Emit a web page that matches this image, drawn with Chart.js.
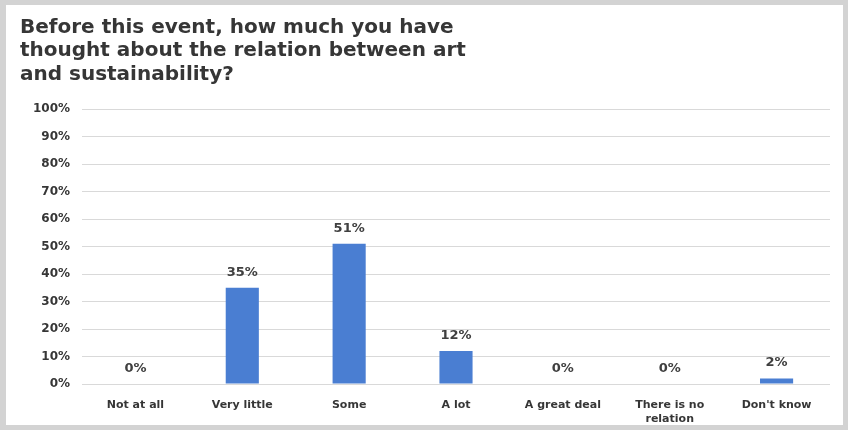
<!DOCTYPE html>
<html>
<head>
<meta charset="utf-8">
<script src="https://cdn.jsdelivr.net/npm/chart.js@4.4.1/dist/chart.umd.min.js"></script>
<style>
  body { margin: 0; background: #fff; }
  #frame {
    width: 848px; height: 430px; box-sizing: border-box;
    border: 5px solid #d3d3d3; border-left-width: 6px; background: #fff;
  }
  #wrap { position: relative; width: 837px; height: 420px; }
</style>
</head>
<body>
<div id="frame"><div id="wrap"><canvas id="chart"></canvas></div></div>
<script>
// survey answers
var categories = ['Not at all', 'Very little', 'Some', 'A lot', 'A great deal', ['There is no', 'relation'], "Don't know"];
var shares = [0, 35, 51, 12, 0, 0, 2];
var titleLines = ['Before this event, how much you have', 'thought about the relation between art', 'and sustainability?'];

var textFont = 'DejaVu Sans';

// percentage text above each bar
var barLabels = {
    id: 'barLabels',
    afterDatasetsDraw: function(chart) {
        var ctx = chart.ctx;
        var meta = chart.getDatasetMeta(0);
        ctx.save();
        ctx.font = 'bold 13px "' + textFont + '"';
        ctx.fillStyle = '#404040';
        ctx.textAlign = 'center';
        ctx.textBaseline = 'bottom';
        meta.data.forEach(function(bar, i) {
            ctx.fillText(shares[i] + '%', bar.x, bar.y - 9);
        });
        ctx.restore();
    }
};

var ctx = document.getElementById('chart').getContext('2d');
var chart = new Chart(ctx, {
    type: 'bar',
    data: {
        labels: categories,
        datasets: [{
            data: shares,
            backgroundColor: '#4a7ed2',
            categoryPercentage: 1,
            barPercentage: 0.31
        }]
    },
    options: {
        responsive: true,
        maintainAspectRatio: false,
        animation: false,
        layout: { padding: { left: 14, right: 13, top: 0, bottom: 0 } },
        plugins: {
            legend: { display: false },
            tooltip: { enabled: false },
            title: {
                display: true,
                text: titleLines,
                align: 'start',
                color: '#363636',
                font: { family: textFont, size: 20, weight: 'bold', lineHeight: 1.17 },
                padding: { top: 11, bottom: 23 }
            }
        },
        scales: {
            x: {
                grid: { display: false, drawTicks: false },
                border: { display: false },
                ticks: {
                    color: '#363636',
                    font: { family: textFont, size: 11, weight: 'bold' },
                    padding: 15,
                    maxRotation: 0,
                    autoSkip: false
                },
                afterFit: function(scale) { scale.height = 41; }
            },
            y: {
                min: 0,
                max: 100,
                grid: { color: '#d9d9d9', drawTicks: false },
                border: { display: false },
                ticks: {
                    stepSize: 10,
                    color: '#363636',
                    font: { family: textFont, size: 12, weight: 'bold' },
                    padding: 12,
                    callback: function(v) { return v + '%'; }
                },
                afterFit: function(scale) { scale.width = 62; }
            }
        }
    },
    plugins: [barLabels]
});
</script>
</body>
</html>
